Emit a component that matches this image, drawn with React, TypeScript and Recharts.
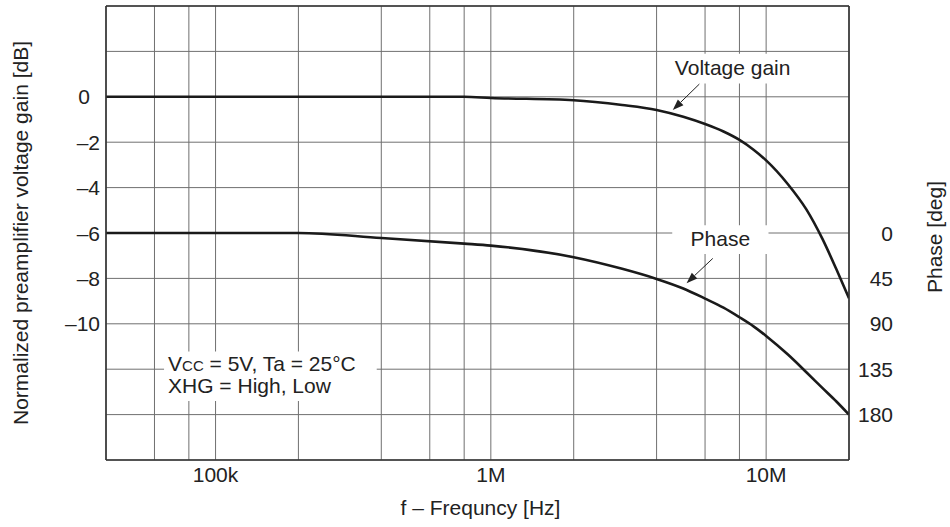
import {
  LineChart,
  Line,
  XAxis,
  YAxis,
  CartesianGrid,
  ReferenceArea,
  ReferenceLine,
  Label,
} from "recharts";

// frequency points [Hz] and the two curves
const freq = [40e3, 200e3, 400e3, 800e3, 1e6, 2e6, 3e6, 4e6, 5e6, 6e6, 7e6, 8e6, 9e6, 10e6, 12e6, 14e6, 16e6, 18e6, 20e6];
const gainDb = [0, 0, 0, 0, -0.05, -0.15, -0.36, -0.58, -0.88, -1.2, -1.53, -1.9, -2.33, -2.8, -3.85, -4.96, -6.25, -7.6, -8.87];
const phaseDeg = [0, 0, 5, 10.5, 12.5, 24, 35.5, 45.5, 55, 65, 74, 83.5, 92.5, 102, 120.5, 138, 153.5, 167, 180];

const xTicks = [40e3, 60e3, 80e3, 100e3, 200e3, 400e3, 600e3, 800e3, 1e6, 2e6, 4e6, 6e6, 8e6, 10e6, 20e6];
const xLabelValues = [100e3, 1e6, 10e6];
const xLabels = ["100k", "1M", "10M"];

const gainTicks = [-16, -14, -12, -10, -8, -6, -4, -2, 0, 2, 4];
const gainLabelValues = [0, -2, -4, -6, -8, -10];
const phaseTicks = [0, 45, 90, 135, 180];

const data = freq.map((f, i) => ({ f, gain: gainDb[i], phase: phaseDeg[i] }));

const FONT = "'Liberation Sans', Arial, Helvetica, sans-serif";
const INK = "#222";
const FS = 21;

const dash = (v: number) => (v < 0 ? `\u2013${Math.abs(v)}` : String(v));

const XTick = ({ x, y, payload }: any) => {
  const idx = xLabelValues.indexOf(payload.value);
  if (idx < 0) return <g />;
  return (
    <text x={x} y={y} dy="0.71em" textAnchor="middle" fill={INK} fontSize={FS} fontFamily={FONT}>
      {xLabels[idx]}
    </text>
  );
};

const GainTick = ({ x, y, payload }: any) => {
  if (!gainLabelValues.includes(payload.value)) return <g />;
  return (
    <text x={x} y={y} dy="0.36em" dx={payload.value === 0 ? -10 : 0} textAnchor="end" fill={INK} fontSize={FS} fontFamily={FONT}>
      {dash(payload.value)}
    </text>
  );
};

const PhaseTick = ({ x, y, payload }: any) => (
  <text x={x} y={y} dy="0.36em" textAnchor="end" fill={INK} fontSize={FS} fontFamily={FONT}>
    {payload.value}
  </text>
);

const Arrow = (p: any) => {
  const { x1, y1, x2, y2 } = p;
  const a = Math.atan2(y2 - y1, x2 - x1);
  const len = 11;
  const hw = 4;
  const bx = x2 - len * Math.cos(a);
  const by = y2 - len * Math.sin(a);
  const nx = -Math.sin(a) * hw;
  const ny = Math.cos(a) * hw;
  return (
    <g>
      <line x1={x1} y1={y1} x2={bx} y2={by} stroke={INK} strokeWidth={1} />
      <polygon points={`${x2},${y2} ${bx + nx},${by + ny} ${bx - nx},${by - ny}`} fill={INK} />
    </g>
  );
};

const boxText = (lines: string[], center: boolean) => (props: any) => {
  const vb = props.viewBox || {};
  if (center) {
    return (
      <text x={vb.x + vb.width / 2} y={vb.y + 21} textAnchor="middle" fill={INK} fontSize={FS} fontFamily={FONT}>
        {lines[0]}
      </text>
    );
  }
  return (
    <text x={vb.x + 4} y={vb.y + 20} fill={INK} fontSize={FS} fontFamily={FONT}>
      <tspan>V</tspan>
      <tspan fontSize={15}>CC</tspan>
      <tspan>{lines[0]}</tspan>
      <tspan x={vb.x + 4} dy={22}>{lines[1]}</tspan>
    </text>
  );
};

export default function App() {
  return (
    <div style={{ position: "absolute", left: 0, top: 0, background: "#fff" }}>
      <LineChart width={950} height={527} data={data} margin={{ top: 6, right: 40, bottom: 0, left: 45 }}>
        <CartesianGrid yAxisId="gain" stroke="#707070" strokeWidth={1} />
        <XAxis
          dataKey="f"
          type="number"
          scale="log"
          domain={[40e3, 20e6]}
          allowDataOverflow
          ticks={xTicks}
          interval={0}
          height={67}
          tickSize={0}
          tickMargin={7}
          tick={<XTick />}
          axisLine={{ stroke: "#333", strokeWidth: 1.6 }}
        >
          <Label
            content={(props: any) => {
              const vb = props.viewBox || {};
              return (
                <text x={vb.x + vb.width / 2 + 3} y={515} textAnchor="middle" fill={INK} fontSize={FS} fontFamily={FONT}>
                  f – Frequncy [Hz]
                </text>
              );
            }}
          />
        </XAxis>
        <YAxis
          yAxisId="gain"
          orientation="left"
          type="number"
          domain={[-16, 4]}
          ticks={gainTicks}
          interval={0}
          width={61}
          tickSize={0}
          tickMargin={6}
          tick={<GainTick />}
          axisLine={{ stroke: "#333", strokeWidth: 1.6 }}
        >
          <Label
            content={(props: any) => {
              const vb = props.viewBox || {};
              const cx = vb.x - 17;
              const cy = vb.y + vb.height / 2;
              return (
                <text x={cx} y={cy} transform={`rotate(-90 ${cx} ${cy})`} textAnchor="middle" fill={INK} fontSize={FS} fontFamily={FONT}>
                  Normalized preamplifier voltage gain [dB]
                </text>
              );
            }}
          />
        </YAxis>
        <YAxis
          yAxisId="phase"
          orientation="right"
          type="number"
          domain={[-225, 225]}
          reversed
          ticks={phaseTicks}
          interval={0}
          width={61}
          tickSize={0}
          tickMargin={44}
          tick={<PhaseTick />}
          axisLine={{ stroke: "#333", strokeWidth: 1.6 }}
        >
          <Label
            content={(props: any) => {
              const vb = props.viewBox || {};
              const cx = vb.x + vb.width + 32;
              const cy = vb.y + vb.height / 2 + 4;
              return (
                <text x={cx} y={cy} transform={`rotate(-90 ${cx} ${cy})`} textAnchor="middle" fill={INK} fontSize={FS} fontFamily={FONT}>
                  Phase [deg]
                </text>
              );
            }}
          />
        </YAxis>
        <ReferenceLine yAxisId="gain" y={4} stroke="#333" strokeWidth={1.6} />

        <ReferenceArea yAxisId="gain" x1={65e3} x2={385e3} y1={-13.4} y2={-11.22} fill="#fff" fillOpacity={1} stroke="none"
          label={boxText([" = 5V, Ta = 25°C", "XHG = High, Low"], false)} />
        <ReferenceArea yAxisId="gain" x1={4.51e6} x2={12.67e6} y1={0.59} y2={1.9} fill="#fff" fillOpacity={1} stroke="none"
          label={boxText(["Voltage gain"], true)} />
        <ReferenceArea yAxisId="gain" x1={4.56e6} x2={10.2e6} y1={-6.93} y2={-5.66} fill="#fff" fillOpacity={1} stroke="none"
          label={boxText(["Phase"], true)} />

        <ReferenceLine yAxisId="gain" segment={[{ x: 5.72e6, y: 0.56 }, { x: 4.58e6, y: -0.58 }]} shape={Arrow} />
        <ReferenceLine yAxisId="phase" segment={[{ x: 6.4e6, y: 25.2 }, { x: 5.14e6, y: 49.7 }]} shape={Arrow} />

        <Line yAxisId="gain" dataKey="gain" type="monotone" stroke="#1a1a1a" strokeWidth={2.6} dot={false} isAnimationActive={false} />
        <Line yAxisId="phase" dataKey="phase" type="monotone" stroke="#1a1a1a" strokeWidth={2.6} dot={false} isAnimationActive={false} />
      </LineChart>
    </div>
  );
}
